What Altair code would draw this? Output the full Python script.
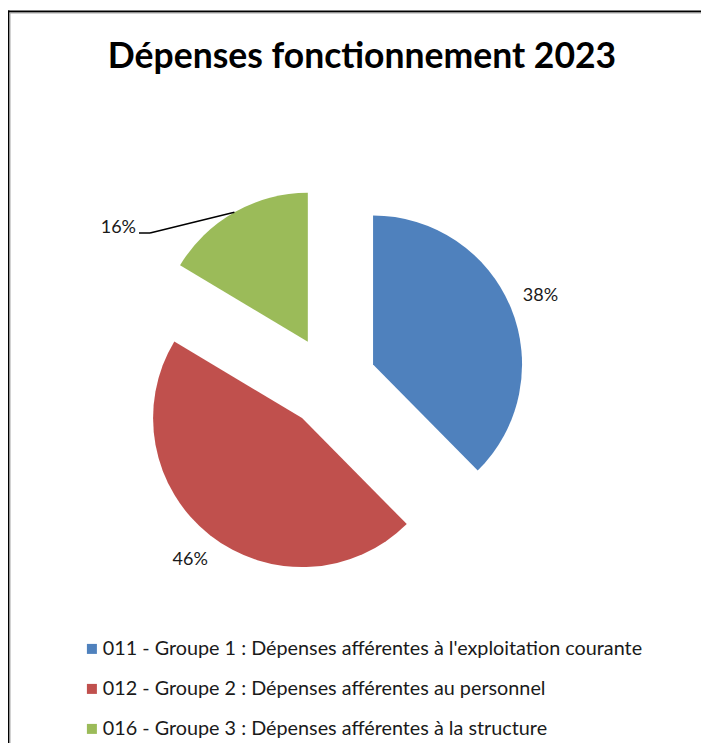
import altair as alt
import pandas as pd

# ---- data ----
categories = [
    "011 - Groupe 1 : Dépenses afférentes à l'exploitation courante",
    "012 - Groupe 2 : Dépenses afférentes au personnel",
    "016 - Groupe 3 : Dépenses afférentes à la structure",
]
shares = [37.6, 46.0, 16.4]
colors = ["#4F81BD", "#C0504D", "#9BBB59"]
title_text = "Dépenses fonctionnement 2023"

df = pd.DataFrame({"cat": categories, "share": shares, "order": [0, 1, 2]})

# ---- layout constants (pixels, chart coordinates) ----
W, H = 694, 735
CX, CY = 322.5, 373.9     # pie centre
EXP = 46                   # explosion offset
R = 149                    # pie radius
LR = 181                   # label radius from slice apex
FONT = "Lato"

xs = alt.Scale(domain=[0, W], range=[0, W])
ys = alt.Scale(domain=[0, H], range=[0, H])
ts = alt.Scale(domain=[0, 100], range=[0, 6.283185307179586])

base = (
    alt.Chart(df)
    .transform_joinaggregate(total="sum(share)")
    .transform_window(cum="sum(share)", sort=[alt.SortField("order")], frame=[None, 0])
    .transform_calculate(
        start_pct="(datum.cum - datum.share) / datum.total * 100",
        end_pct="datum.cum / datum.total * 100",
        mid_pct="(datum.cum - datum.share / 2) / datum.total * 100",
        label="round(datum.share / datum.total * 100) + '%'",
    )
    .transform_calculate(ang="datum.mid_pct / 100 * 2 * PI")
    .transform_calculate(
        px=f"{CX} + {EXP} * sin(datum.ang)",
        py=f"{CY} - {EXP} * cos(datum.ang)",
    )
    .transform_calculate(
        ex=f"datum.px + {R} * sin(datum.ang)",
        ey=f"datum.py - {R} * cos(datum.ang)",
    )
)

pie = base.mark_arc(radius=R, stroke=None).encode(
    x=alt.X("px:Q", scale=xs, axis=None),
    y=alt.Y("py:Q", scale=ys, axis=None),
    theta=alt.Theta("start_pct:Q", scale=ts, stack=None),
    theta2="end_pct:Q",
    color=alt.Color(
        "cat:N",
        scale=alt.Scale(domain=categories, range=colors),
        sort=categories,
        legend=alt.Legend(
            title=None,
            orient="none",
            legendX=74,
            legendY=631,
            direction="vertical",
            symbolType="square",
            symbolSize=100,
            symbolStrokeWidth=0,
            labelFont=FONT,
            labelFontSize=19.8,
            labelColor="#1a1a1a",
            labelLimit=0,
            labelOffset=1,
            rowPadding=19,
            padding=0,
        ),
    ),
)

labels = base.transform_filter("datum.order != 2").mark_text(
    radius=LR, font=FONT, fontSize=18, color="#1a1a1a", align="center", baseline="middle"
).encode(
    x=alt.X("px:Q", scale=xs, axis=None),
    y=alt.Y("py:Q", scale=ys, axis=None),
    theta=alt.Theta("mid_pct:Q", scale=ts, stack=None),
    text="label:N",
)

green_label = base.transform_filter("datum.order == 2").mark_text(
    font=FONT, fontSize=18, color="#1a1a1a", align="right", baseline="middle"
).encode(x=alt.value(128), y=alt.value(220), text="label:N")

leader = base.transform_filter("datum.order == 2").mark_rule(
    color="#000000", strokeWidth=1.5
).encode(
    x=alt.X("ex:Q", scale=xs, axis=None),
    y=alt.Y("ey:Q", scale=ys, axis=None),
    x2=alt.value(142),
    y2=alt.value(225),
)
stub = base.transform_filter("datum.order == 2").mark_rule(
    color="#000000", strokeWidth=1.5
).encode(x=alt.value(131), x2=alt.value(142), y=alt.value(225), y2=alt.value(225))

title = alt.Chart(df).transform_filter("datum.order == 0").mark_text(
    font=FONT, fontSize=35.5, fontWeight="bold", color="#000000", align="center", baseline="alphabetic"
).encode(x=alt.value(354), y=alt.value(60), text=alt.value(title_text))

frame = alt.Chart(df).transform_filter("datum.order == 0")
top_line = frame.mark_rule(color="#000000", strokeWidth=2).encode(
    x=alt.value(0), x2=alt.value(W - 1), y=alt.value(3.5), y2=alt.value(3.5))
left_line = frame.mark_rule(color="#000000", strokeWidth=2).encode(
    x=alt.value(0.5), x2=alt.value(0.5), y=alt.value(2.5), y2=alt.value(H))
top_in = frame.mark_rule(color="#a6a6a6", strokeWidth=1).encode(
    x=alt.value(1.5), x2=alt.value(W - 1), y=alt.value(5), y2=alt.value(5))
left_in = frame.mark_rule(color="#a6a6a6", strokeWidth=1).encode(
    x=alt.value(2), x2=alt.value(2), y=alt.value(4.5), y2=alt.value(H))

chart = (
    alt.layer(top_line, left_line, top_in, left_in, title, pie, labels, leader, stub, green_label)
    .properties(
        width=W,
        height=H,
        autosize=alt.AutoSizeParams(type="none"),
        padding=0,
        background="#ffffff",
    )
    .configure_view(stroke=None)
)

chart.save("out.html", embed_options={"renderer": "svg", "actions": False})
